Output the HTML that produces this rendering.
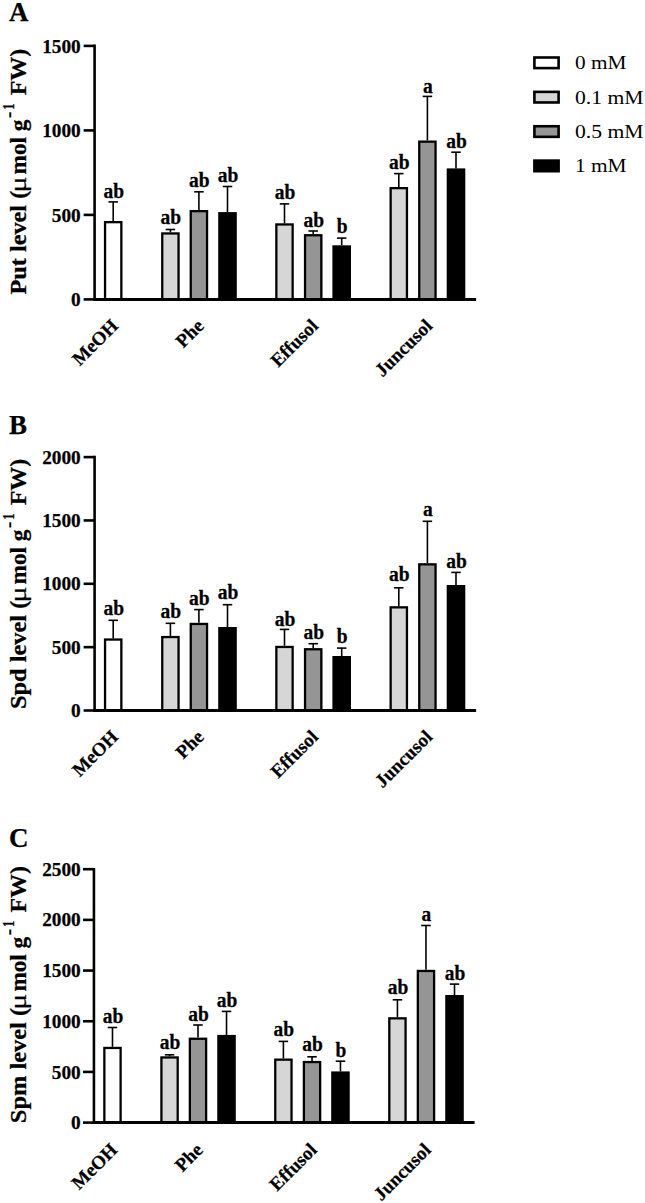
<!DOCTYPE html><html><head><meta charset="utf-8"><style>html,body{margin:0;padding:0;background:#fff;width:645px;height:1203px;overflow:hidden}svg{display:block}text{font-family:"Liberation Serif", serif;stroke:#000;stroke-width:0.25px}</style></head><body>
<svg width="645" height="1203" viewBox="0 0 645 1203">
<rect width="645" height="1203" fill="#fff"/>
<text x="9.0" y="21.2" font-size="27.0" font-weight="bold">A</text>
<text x="80.70" y="306.00" font-size="19.3" font-weight="bold" text-anchor="end">0</text>
<text x="80.70" y="221.50" font-size="19.3" font-weight="bold" text-anchor="end">500</text>
<text x="80.70" y="137.00" font-size="19.3" font-weight="bold" text-anchor="end">1000</text>
<text x="80.70" y="52.50" font-size="19.3" font-weight="bold" text-anchor="end">1500</text>
<g>
<line x1="83.6" y1="299.40" x2="94.6" y2="299.40" stroke="#000" stroke-width="2.6"/>
<line x1="83.6" y1="214.90" x2="94.6" y2="214.90" stroke="#000" stroke-width="2.6"/>
<line x1="83.6" y1="130.40" x2="94.6" y2="130.40" stroke="#000" stroke-width="2.6"/>
<line x1="83.6" y1="45.90" x2="94.6" y2="45.90" stroke="#000" stroke-width="2.6"/>
<line x1="94.6" y1="44.60" x2="94.6" y2="300.70" stroke="#000" stroke-width="2.6"/>
<line x1="113.20" y1="201.90" x2="113.20" y2="221.00" stroke="#000" stroke-width="1.6"/>
<line x1="108.45" y1="201.90" x2="117.95" y2="201.90" stroke="#000" stroke-width="1.6"/>
<rect x="105.05" y="222.15" width="16.30" height="77.25" fill="#ffffff" stroke="#000" stroke-width="2.3"/>
<text transform="translate(113.70 197.70) scale(1 1.080)" font-size="19.5" font-weight="bold" text-anchor="middle">ab</text>
<line x1="170.40" y1="229.50" x2="170.40" y2="232.30" stroke="#000" stroke-width="1.6"/>
<line x1="165.65" y1="229.50" x2="175.15" y2="229.50" stroke="#000" stroke-width="1.6"/>
<rect x="162.25" y="233.45" width="16.30" height="65.95" fill="#d6d6d6" stroke="#000" stroke-width="2.3"/>
<text transform="translate(170.90 224.30) scale(1 1.080)" font-size="19.5" font-weight="bold" text-anchor="middle">ab</text>
<line x1="198.90" y1="191.80" x2="198.90" y2="210.00" stroke="#000" stroke-width="1.6"/>
<line x1="194.15" y1="191.80" x2="203.65" y2="191.80" stroke="#000" stroke-width="1.6"/>
<rect x="190.75" y="211.15" width="16.30" height="88.25" fill="#959595" stroke="#000" stroke-width="2.3"/>
<text transform="translate(199.40 187.10) scale(1 1.080)" font-size="19.5" font-weight="bold" text-anchor="middle">ab</text>
<line x1="227.50" y1="186.50" x2="227.50" y2="212.10" stroke="#000" stroke-width="1.6"/>
<line x1="222.75" y1="186.50" x2="232.25" y2="186.50" stroke="#000" stroke-width="1.6"/>
<rect x="219.35" y="213.25" width="16.30" height="86.15" fill="#000000" stroke="#000" stroke-width="2.3"/>
<text transform="translate(228.00 182.30) scale(1 1.080)" font-size="19.5" font-weight="bold" text-anchor="middle">ab</text>
<line x1="284.50" y1="203.90" x2="284.50" y2="223.30" stroke="#000" stroke-width="1.6"/>
<line x1="279.75" y1="203.90" x2="289.25" y2="203.90" stroke="#000" stroke-width="1.6"/>
<rect x="276.35" y="224.45" width="16.30" height="74.95" fill="#d6d6d6" stroke="#000" stroke-width="2.3"/>
<text transform="translate(285.00 198.70) scale(1 1.080)" font-size="19.5" font-weight="bold" text-anchor="middle">ab</text>
<line x1="313.20" y1="231.00" x2="313.20" y2="234.10" stroke="#000" stroke-width="1.6"/>
<line x1="308.45" y1="231.00" x2="317.95" y2="231.00" stroke="#000" stroke-width="1.6"/>
<rect x="305.05" y="235.25" width="16.30" height="64.15" fill="#959595" stroke="#000" stroke-width="2.3"/>
<text transform="translate(313.70 226.50) scale(1 1.080)" font-size="19.5" font-weight="bold" text-anchor="middle">ab</text>
<line x1="341.70" y1="238.10" x2="341.70" y2="245.30" stroke="#000" stroke-width="1.6"/>
<line x1="336.95" y1="238.10" x2="346.45" y2="238.10" stroke="#000" stroke-width="1.6"/>
<rect x="333.55" y="246.45" width="16.30" height="52.95" fill="#000000" stroke="#000" stroke-width="2.3"/>
<text transform="translate(342.20 233.10) scale(1 1.080)" font-size="19.5" font-weight="bold" text-anchor="middle">b</text>
<line x1="398.80" y1="173.60" x2="398.80" y2="187.00" stroke="#000" stroke-width="1.6"/>
<line x1="394.05" y1="173.60" x2="403.55" y2="173.60" stroke="#000" stroke-width="1.6"/>
<rect x="390.65" y="188.15" width="16.30" height="111.25" fill="#d6d6d6" stroke="#000" stroke-width="2.3"/>
<text transform="translate(399.30 168.80) scale(1 1.080)" font-size="19.5" font-weight="bold" text-anchor="middle">ab</text>
<line x1="427.40" y1="96.40" x2="427.40" y2="140.50" stroke="#000" stroke-width="1.6"/>
<line x1="422.65" y1="96.40" x2="432.15" y2="96.40" stroke="#000" stroke-width="1.6"/>
<rect x="419.25" y="141.65" width="16.30" height="157.75" fill="#959595" stroke="#000" stroke-width="2.3"/>
<text transform="translate(427.90 92.50) scale(1 1.080)" font-size="19.5" font-weight="bold" text-anchor="middle">a</text>
<line x1="456.00" y1="152.20" x2="456.00" y2="168.40" stroke="#000" stroke-width="1.6"/>
<line x1="451.25" y1="152.20" x2="460.75" y2="152.20" stroke="#000" stroke-width="1.6"/>
<rect x="447.85" y="169.55" width="16.30" height="129.85" fill="#000000" stroke="#000" stroke-width="2.3"/>
<text transform="translate(456.50 147.50) scale(1 1.080)" font-size="19.5" font-weight="bold" text-anchor="middle">ab</text>
<line x1="93.3" y1="299.40" x2="476.1" y2="299.40" stroke="#000" stroke-width="3.0"/>
<text transform="translate(119.20 327.00) rotate(-45)" font-size="19.0" font-weight="bold" text-anchor="end">MeOH</text>
<text transform="translate(204.90 327.00) rotate(-45)" font-size="19.0" font-weight="bold" text-anchor="end">Phe</text>
<text transform="translate(319.20 327.00) rotate(-45)" font-size="19.0" font-weight="bold" text-anchor="end">Effusol</text>
<text transform="translate(433.40 327.00) rotate(-45)" font-size="19.0" font-weight="bold" text-anchor="end">Juncusol</text>
</g>
<text transform="translate(26.00 294.62) rotate(-90)" font-size="23.00" font-weight="bold" textLength="103.90" lengthAdjust="spacingAndGlyphs">Put level (</text>
<text transform="translate(26.30 192.43) rotate(-90)" font-size="24.00" font-weight="normal" textLength="16.06" lengthAdjust="spacingAndGlyphs">&#956;</text>
<text transform="translate(26.00 174.42) rotate(-90)" font-size="23.00" font-weight="bold" textLength="54.85" lengthAdjust="spacingAndGlyphs">mol g</text>
<text transform="translate(14.60 118.09) rotate(-90)" font-size="18.00" font-weight="bold" textLength="6.28" lengthAdjust="spacingAndGlyphs">-</text>
<text transform="translate(14.40 109.82) rotate(-90)" font-size="17.00" font-weight="bold" textLength="6.38" lengthAdjust="spacingAndGlyphs">1</text>
<text transform="translate(26.00 95.31) rotate(-90)" font-size="23.00" font-weight="bold" textLength="46.56" lengthAdjust="spacingAndGlyphs">FW)</text>
<text x="9.0" y="434.0" font-size="27.0" font-weight="bold">B</text>
<text x="80.70" y="717.10" font-size="19.3" font-weight="bold" text-anchor="end">0</text>
<text x="80.70" y="653.75" font-size="19.3" font-weight="bold" text-anchor="end">500</text>
<text x="80.70" y="590.40" font-size="19.3" font-weight="bold" text-anchor="end">1000</text>
<text x="80.70" y="527.05" font-size="19.3" font-weight="bold" text-anchor="end">1500</text>
<text x="80.70" y="463.70" font-size="19.3" font-weight="bold" text-anchor="end">2000</text>
<g>
<line x1="83.6" y1="710.50" x2="94.6" y2="710.50" stroke="#000" stroke-width="2.6"/>
<line x1="83.6" y1="647.15" x2="94.6" y2="647.15" stroke="#000" stroke-width="2.6"/>
<line x1="83.6" y1="583.80" x2="94.6" y2="583.80" stroke="#000" stroke-width="2.6"/>
<line x1="83.6" y1="520.45" x2="94.6" y2="520.45" stroke="#000" stroke-width="2.6"/>
<line x1="83.6" y1="457.10" x2="94.6" y2="457.10" stroke="#000" stroke-width="2.6"/>
<line x1="94.6" y1="455.80" x2="94.6" y2="711.80" stroke="#000" stroke-width="2.6"/>
<line x1="113.20" y1="620.30" x2="113.20" y2="638.40" stroke="#000" stroke-width="1.6"/>
<line x1="108.45" y1="620.30" x2="117.95" y2="620.30" stroke="#000" stroke-width="1.6"/>
<rect x="105.05" y="639.55" width="16.30" height="70.95" fill="#ffffff" stroke="#000" stroke-width="2.3"/>
<text transform="translate(113.70 615.10) scale(1 1.080)" font-size="19.5" font-weight="bold" text-anchor="middle">ab</text>
<line x1="170.40" y1="623.30" x2="170.40" y2="635.90" stroke="#000" stroke-width="1.6"/>
<line x1="165.65" y1="623.30" x2="175.15" y2="623.30" stroke="#000" stroke-width="1.6"/>
<rect x="162.25" y="637.05" width="16.30" height="73.45" fill="#d6d6d6" stroke="#000" stroke-width="2.3"/>
<text transform="translate(170.90 617.60) scale(1 1.080)" font-size="19.5" font-weight="bold" text-anchor="middle">ab</text>
<line x1="198.90" y1="609.60" x2="198.90" y2="622.80" stroke="#000" stroke-width="1.6"/>
<line x1="194.15" y1="609.60" x2="203.65" y2="609.60" stroke="#000" stroke-width="1.6"/>
<rect x="190.75" y="623.95" width="16.30" height="86.55" fill="#959595" stroke="#000" stroke-width="2.3"/>
<text transform="translate(199.40 605.40) scale(1 1.080)" font-size="19.5" font-weight="bold" text-anchor="middle">ab</text>
<line x1="227.50" y1="604.70" x2="227.50" y2="627.00" stroke="#000" stroke-width="1.6"/>
<line x1="222.75" y1="604.70" x2="232.25" y2="604.70" stroke="#000" stroke-width="1.6"/>
<rect x="219.35" y="628.15" width="16.30" height="82.35" fill="#000000" stroke="#000" stroke-width="2.3"/>
<text transform="translate(228.00 599.30) scale(1 1.080)" font-size="19.5" font-weight="bold" text-anchor="middle">ab</text>
<line x1="284.50" y1="629.40" x2="284.50" y2="645.80" stroke="#000" stroke-width="1.6"/>
<line x1="279.75" y1="629.40" x2="289.25" y2="629.40" stroke="#000" stroke-width="1.6"/>
<rect x="276.35" y="646.95" width="16.30" height="63.55" fill="#d6d6d6" stroke="#000" stroke-width="2.3"/>
<text transform="translate(285.00 625.50) scale(1 1.080)" font-size="19.5" font-weight="bold" text-anchor="middle">ab</text>
<line x1="313.20" y1="643.70" x2="313.20" y2="648.10" stroke="#000" stroke-width="1.6"/>
<line x1="308.45" y1="643.70" x2="317.95" y2="643.70" stroke="#000" stroke-width="1.6"/>
<rect x="305.05" y="649.25" width="16.30" height="61.25" fill="#959595" stroke="#000" stroke-width="2.3"/>
<text transform="translate(313.70 639.00) scale(1 1.080)" font-size="19.5" font-weight="bold" text-anchor="middle">ab</text>
<line x1="341.70" y1="648.10" x2="341.70" y2="656.00" stroke="#000" stroke-width="1.6"/>
<line x1="336.95" y1="648.10" x2="346.45" y2="648.10" stroke="#000" stroke-width="1.6"/>
<rect x="333.55" y="657.15" width="16.30" height="53.35" fill="#000000" stroke="#000" stroke-width="2.3"/>
<text transform="translate(342.20 643.10) scale(1 1.080)" font-size="19.5" font-weight="bold" text-anchor="middle">b</text>
<line x1="398.80" y1="587.80" x2="398.80" y2="606.20" stroke="#000" stroke-width="1.6"/>
<line x1="394.05" y1="587.80" x2="403.55" y2="587.80" stroke="#000" stroke-width="1.6"/>
<rect x="390.65" y="607.35" width="16.30" height="103.15" fill="#d6d6d6" stroke="#000" stroke-width="2.3"/>
<text transform="translate(399.30 581.40) scale(1 1.080)" font-size="19.5" font-weight="bold" text-anchor="middle">ab</text>
<line x1="427.40" y1="521.30" x2="427.40" y2="563.20" stroke="#000" stroke-width="1.6"/>
<line x1="422.65" y1="521.30" x2="432.15" y2="521.30" stroke="#000" stroke-width="1.6"/>
<rect x="419.25" y="564.35" width="16.30" height="146.15" fill="#959595" stroke="#000" stroke-width="2.3"/>
<text transform="translate(427.90 515.60) scale(1 1.080)" font-size="19.5" font-weight="bold" text-anchor="middle">a</text>
<line x1="456.00" y1="572.40" x2="456.00" y2="585.00" stroke="#000" stroke-width="1.6"/>
<line x1="451.25" y1="572.40" x2="460.75" y2="572.40" stroke="#000" stroke-width="1.6"/>
<rect x="447.85" y="586.15" width="16.30" height="124.35" fill="#000000" stroke="#000" stroke-width="2.3"/>
<text transform="translate(456.50 567.80) scale(1 1.080)" font-size="19.5" font-weight="bold" text-anchor="middle">ab</text>
<line x1="93.3" y1="710.50" x2="476.1" y2="710.50" stroke="#000" stroke-width="3.0"/>
<text transform="translate(119.20 738.00) rotate(-45)" font-size="19.0" font-weight="bold" text-anchor="end">MeOH</text>
<text transform="translate(204.90 738.00) rotate(-45)" font-size="19.0" font-weight="bold" text-anchor="end">Phe</text>
<text transform="translate(319.20 738.00) rotate(-45)" font-size="19.0" font-weight="bold" text-anchor="end">Effusol</text>
<text transform="translate(433.40 738.00) rotate(-45)" font-size="19.0" font-weight="bold" text-anchor="end">Juncusol</text>
</g>
<text transform="translate(26.00 709.00) rotate(-90)" font-size="23.00" font-weight="bold" textLength="108.28" lengthAdjust="spacingAndGlyphs">Spd level (</text>
<text transform="translate(26.30 602.43) rotate(-90)" font-size="24.00" font-weight="normal" textLength="16.06" lengthAdjust="spacingAndGlyphs">&#956;</text>
<text transform="translate(26.00 584.42) rotate(-90)" font-size="23.00" font-weight="bold" textLength="54.85" lengthAdjust="spacingAndGlyphs">mol g</text>
<text transform="translate(14.60 528.09) rotate(-90)" font-size="18.00" font-weight="bold" textLength="6.28" lengthAdjust="spacingAndGlyphs">-</text>
<text transform="translate(14.40 519.82) rotate(-90)" font-size="17.00" font-weight="bold" textLength="6.38" lengthAdjust="spacingAndGlyphs">1</text>
<text transform="translate(26.00 505.31) rotate(-90)" font-size="23.00" font-weight="bold" textLength="46.56" lengthAdjust="spacingAndGlyphs">FW)</text>
<text x="9.0" y="846.7" font-size="27.0" font-weight="bold">C</text>
<text x="80.70" y="1129.20" font-size="19.3" font-weight="bold" text-anchor="end">0</text>
<text x="80.70" y="1078.52" font-size="19.3" font-weight="bold" text-anchor="end">500</text>
<text x="80.70" y="1027.84" font-size="19.3" font-weight="bold" text-anchor="end">1000</text>
<text x="80.70" y="977.16" font-size="19.3" font-weight="bold" text-anchor="end">1500</text>
<text x="80.70" y="926.48" font-size="19.3" font-weight="bold" text-anchor="end">2000</text>
<text x="80.70" y="875.80" font-size="19.3" font-weight="bold" text-anchor="end">2500</text>
<g transform="matrix(0.9977 0 0 1 -0.45 0)">
<line x1="83.6" y1="1122.60" x2="94.6" y2="1122.60" stroke="#000" stroke-width="2.6"/>
<line x1="83.6" y1="1071.92" x2="94.6" y2="1071.92" stroke="#000" stroke-width="2.6"/>
<line x1="83.6" y1="1021.24" x2="94.6" y2="1021.24" stroke="#000" stroke-width="2.6"/>
<line x1="83.6" y1="970.56" x2="94.6" y2="970.56" stroke="#000" stroke-width="2.6"/>
<line x1="83.6" y1="919.88" x2="94.6" y2="919.88" stroke="#000" stroke-width="2.6"/>
<line x1="83.6" y1="869.20" x2="94.6" y2="869.20" stroke="#000" stroke-width="2.6"/>
<line x1="94.6" y1="867.90" x2="94.6" y2="1123.90" stroke="#000" stroke-width="2.6"/>
<line x1="113.20" y1="1027.50" x2="113.20" y2="1046.80" stroke="#000" stroke-width="1.6"/>
<line x1="108.45" y1="1027.50" x2="117.95" y2="1027.50" stroke="#000" stroke-width="1.6"/>
<rect x="105.05" y="1047.95" width="16.30" height="74.65" fill="#ffffff" stroke="#000" stroke-width="2.3"/>
<text transform="translate(113.70 1023.30) scale(1 1.080)" font-size="19.5" font-weight="bold" text-anchor="middle">ab</text>
<line x1="170.40" y1="1054.80" x2="170.40" y2="1056.30" stroke="#000" stroke-width="1.6"/>
<line x1="165.65" y1="1054.80" x2="175.15" y2="1054.80" stroke="#000" stroke-width="1.6"/>
<rect x="162.25" y="1057.45" width="16.30" height="65.15" fill="#d6d6d6" stroke="#000" stroke-width="2.3"/>
<text transform="translate(170.90 1049.30) scale(1 1.080)" font-size="19.5" font-weight="bold" text-anchor="middle">ab</text>
<line x1="198.90" y1="1025.00" x2="198.90" y2="1037.60" stroke="#000" stroke-width="1.6"/>
<line x1="194.15" y1="1025.00" x2="203.65" y2="1025.00" stroke="#000" stroke-width="1.6"/>
<rect x="190.75" y="1038.75" width="16.30" height="83.85" fill="#959595" stroke="#000" stroke-width="2.3"/>
<text transform="translate(199.40 1020.80) scale(1 1.080)" font-size="19.5" font-weight="bold" text-anchor="middle">ab</text>
<line x1="227.50" y1="1011.40" x2="227.50" y2="1034.90" stroke="#000" stroke-width="1.6"/>
<line x1="222.75" y1="1011.40" x2="232.25" y2="1011.40" stroke="#000" stroke-width="1.6"/>
<rect x="219.35" y="1036.05" width="16.30" height="86.55" fill="#000000" stroke="#000" stroke-width="2.3"/>
<text transform="translate(228.00 1006.70) scale(1 1.080)" font-size="19.5" font-weight="bold" text-anchor="middle">ab</text>
<line x1="284.50" y1="1041.40" x2="284.50" y2="1058.50" stroke="#000" stroke-width="1.6"/>
<line x1="279.75" y1="1041.40" x2="289.25" y2="1041.40" stroke="#000" stroke-width="1.6"/>
<rect x="276.35" y="1059.65" width="16.30" height="62.95" fill="#d6d6d6" stroke="#000" stroke-width="2.3"/>
<text transform="translate(285.00 1036.20) scale(1 1.080)" font-size="19.5" font-weight="bold" text-anchor="middle">ab</text>
<line x1="313.20" y1="1056.80" x2="313.20" y2="1060.90" stroke="#000" stroke-width="1.6"/>
<line x1="308.45" y1="1056.80" x2="317.95" y2="1056.80" stroke="#000" stroke-width="1.6"/>
<rect x="305.05" y="1062.05" width="16.30" height="60.55" fill="#959595" stroke="#000" stroke-width="2.3"/>
<text transform="translate(313.70 1050.70) scale(1 1.080)" font-size="19.5" font-weight="bold" text-anchor="middle">ab</text>
<line x1="341.70" y1="1061.20" x2="341.70" y2="1071.40" stroke="#000" stroke-width="1.6"/>
<line x1="336.95" y1="1061.20" x2="346.45" y2="1061.20" stroke="#000" stroke-width="1.6"/>
<rect x="333.55" y="1072.55" width="16.30" height="50.05" fill="#000000" stroke="#000" stroke-width="2.3"/>
<text transform="translate(342.20 1056.70) scale(1 1.080)" font-size="19.5" font-weight="bold" text-anchor="middle">b</text>
<line x1="398.80" y1="999.80" x2="398.80" y2="1017.20" stroke="#000" stroke-width="1.6"/>
<line x1="394.05" y1="999.80" x2="403.55" y2="999.80" stroke="#000" stroke-width="1.6"/>
<rect x="390.65" y="1018.35" width="16.30" height="104.25" fill="#d6d6d6" stroke="#000" stroke-width="2.3"/>
<text transform="translate(399.30 993.80) scale(1 1.080)" font-size="19.5" font-weight="bold" text-anchor="middle">ab</text>
<line x1="427.40" y1="925.50" x2="427.40" y2="969.80" stroke="#000" stroke-width="1.6"/>
<line x1="422.65" y1="925.50" x2="432.15" y2="925.50" stroke="#000" stroke-width="1.6"/>
<rect x="419.25" y="970.95" width="16.30" height="151.65" fill="#959595" stroke="#000" stroke-width="2.3"/>
<text transform="translate(427.90 921.30) scale(1 1.080)" font-size="19.5" font-weight="bold" text-anchor="middle">a</text>
<line x1="456.00" y1="984.10" x2="456.00" y2="995.00" stroke="#000" stroke-width="1.6"/>
<line x1="451.25" y1="984.10" x2="460.75" y2="984.10" stroke="#000" stroke-width="1.6"/>
<rect x="447.85" y="996.15" width="16.30" height="126.45" fill="#000000" stroke="#000" stroke-width="2.3"/>
<text transform="translate(456.50 980.40) scale(1 1.080)" font-size="19.5" font-weight="bold" text-anchor="middle">ab</text>
<line x1="93.3" y1="1122.60" x2="476.1" y2="1122.60" stroke="#000" stroke-width="3.0"/>
<text transform="translate(119.20 1151.00) rotate(-45)" font-size="19.0" font-weight="bold" text-anchor="end">MeOH</text>
<text transform="translate(204.90 1151.00) rotate(-45)" font-size="19.0" font-weight="bold" text-anchor="end">Phe</text>
<text transform="translate(319.20 1151.00) rotate(-45)" font-size="19.0" font-weight="bold" text-anchor="end">Effusol</text>
<text transform="translate(433.40 1151.00) rotate(-45)" font-size="19.0" font-weight="bold" text-anchor="end">Juncusol</text>
</g>
<text transform="translate(26.00 1123.20) rotate(-90)" font-size="23.00" font-weight="bold" textLength="115.29" lengthAdjust="spacingAndGlyphs">Spm level (</text>
<text transform="translate(26.30 1009.63) rotate(-90)" font-size="24.00" font-weight="normal" textLength="16.06" lengthAdjust="spacingAndGlyphs">&#956;</text>
<text transform="translate(26.00 991.62) rotate(-90)" font-size="23.00" font-weight="bold" textLength="54.85" lengthAdjust="spacingAndGlyphs">mol g</text>
<text transform="translate(14.60 935.29) rotate(-90)" font-size="18.00" font-weight="bold" textLength="6.28" lengthAdjust="spacingAndGlyphs">-</text>
<text transform="translate(14.40 927.02) rotate(-90)" font-size="17.00" font-weight="bold" textLength="6.38" lengthAdjust="spacingAndGlyphs">1</text>
<text transform="translate(26.00 912.51) rotate(-90)" font-size="23.00" font-weight="bold" textLength="46.56" lengthAdjust="spacingAndGlyphs">FW)</text>
<rect x="534.40" y="57.50" width="24.20" height="10.60" fill="#ffffff" stroke="#000" stroke-width="2.6"/>
<text x="575.0" y="69.20" font-size="18.5" style="stroke-width:0" textLength="51.4" lengthAdjust="spacingAndGlyphs">0 mM</text>
<rect x="534.40" y="91.87" width="24.20" height="10.60" fill="#d6d6d6" stroke="#000" stroke-width="2.6"/>
<text x="575.0" y="103.57" font-size="18.5" style="stroke-width:0" textLength="68.5" lengthAdjust="spacingAndGlyphs">0.1 mM</text>
<rect x="534.40" y="126.24" width="24.20" height="10.60" fill="#959595" stroke="#000" stroke-width="2.6"/>
<text x="575.0" y="137.94" font-size="18.5" style="stroke-width:0" textLength="68.5" lengthAdjust="spacingAndGlyphs">0.5 mM</text>
<rect x="534.40" y="160.61" width="24.20" height="10.60" fill="#000000" stroke="#000" stroke-width="2.6"/>
<text x="575.0" y="172.31" font-size="18.5" style="stroke-width:0" textLength="51.6" lengthAdjust="spacingAndGlyphs">1 mM</text>
</svg></body></html>
